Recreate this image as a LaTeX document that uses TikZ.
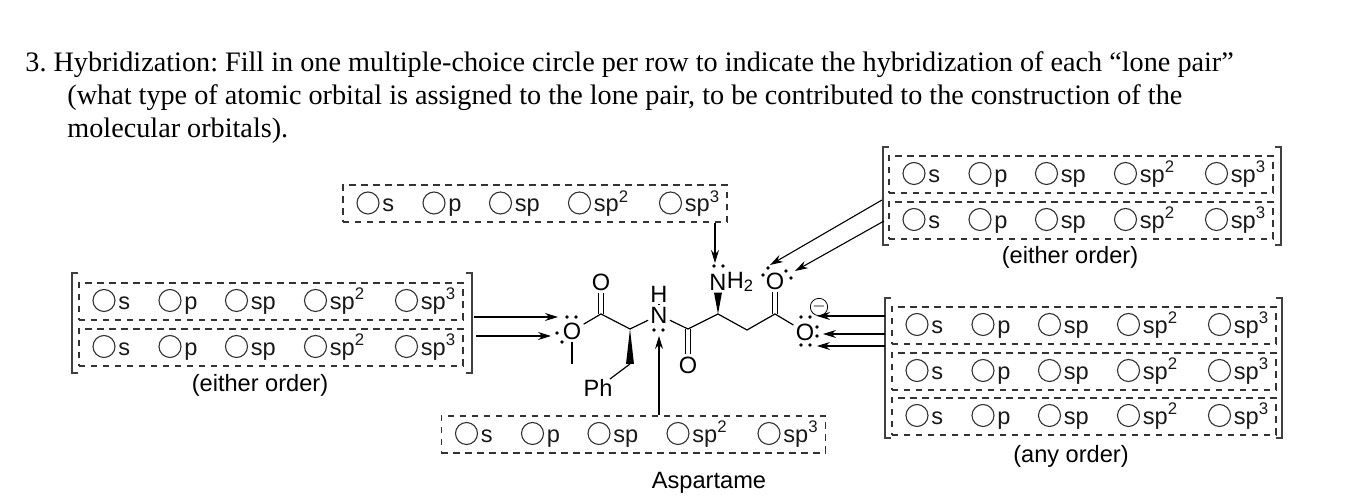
\documentclass[tikz,border=0pt]{standalone}
\usepackage{fontspec}
\setmainfont{Liberation Serif}
\newfontfamily\chemfont{Liberation Sans}
\usetikzlibrary{arrows.meta}

\newcommand{\orbpower}[1]{\raisebox{4.8pt}{\fontsize{8.4}{9}\selectfont #1}}

\tikzset{
	rowbox/.style={draw=black!80,dash pattern=on 3.3pt off 2.7pt,line width=.8pt,minimum width=192pt,minimum height=18.5pt,inner sep=0pt,anchor=north west},
	pick/.style={draw=black!80,circle,line width=.55pt,minimum size=11pt,inner sep=0pt},
	picktext/.style={anchor=base west,inner sep=0pt,text=black!90,font=\chemfont\fontsize{11.8}{12}\selectfont},
	caption/.style={font=\chemfont\fontsize{11.8}{12}\selectfont,inner sep=0pt},
	atom/.style={font=\chemfont\fontsize{11.8}{12}\selectfont,inner sep=1pt},
	question/.style={anchor=base west,inner sep=0pt,font=\frenchspacing\fontsize{14.1}{16}\selectfont},
	bond/.style={line width=.6pt},
	pointer/.style={line width=.55pt,-{Stealth[length=6.5pt,width=4pt]}},
	bracket/.style={line width=.7pt,draw=black!75},
}

\begin{document}
\begin{tikzpicture}[x=.5pt,y=-.5pt]
	\useasboundingbox (0,0) rectangle (1357,501);
	\node (line1) [question] at (25,72) {3. Hybridization: Fill in one multiple-choice circle per row to indicate the hybridization of each “lone pair”};
	\node (line2) [question] at (67,105) {(what type of atomic orbital is assigned to the lone pair, to be contributed to the construction of the};
	\node (line3) [question] at (67,138) {molecular orbitals).};

	\foreach \rowname/\rowx/\rowy in {top/342/184.5,ketoA/888/155,ketoB/888/201,esterA/78/282,esterB/78/328,acidA/891/306,acidB/891/352,acidC/891/397,amide/440.5/415}{
		\node (\rowname) [rowbox] at (\rowx,\rowy) {};
		\foreach \i/\off/\txt in {1/26/s,2/92/p,3/158.5/sp,4/237.5/sp\orbpower{2},5/328.5/sp\orbpower{3}}{
			\node (\rowname-c\i) [pick] at (\rowx+\off,\rowy+18.5) {};
			\node (\rowname-t\i) [picktext] at (\rowx+\off+14,\rowy+27.5) {\txt};
		}
	}

	\draw[bracket] (889,147) -- (883,147) -- (883,245) -- (889,245);
	\draw[bracket] (1275,147) -- (1281,147) -- (1281,245) -- (1275,245);
	\draw[bracket] (78,273) -- (72,273) -- (72,373) -- (78,373);
	\draw[bracket] (466,273) -- (472,273) -- (472,373) -- (466,373);
	\draw[bracket] (891,298) -- (885,298) -- (885,438) -- (891,438);
	\draw[bracket] (1276,298) -- (1282,298) -- (1282,438) -- (1276,438);

	\node (ketocap) [caption] at (1070,257) {(either order)};
	\node (estercap) [caption] at (260,385) {(either order)};
	\node (acidcap) [caption] at (1071,456) {(any order)};
	\node (name) [caption] at (709,482.5) {Aspartame};

	% skeleton, left to right
	\coordinate (C1) at (601,314);
	\coordinate (Ca) at (630,329);
	\coordinate (Cb) at (630,364);
	\coordinate (C2) at (688,329);
	\coordinate (Cc) at (718,314);
	\coordinate (Cd) at (747,330);
	\coordinate (C3) at (775,314);
	\coordinate (Me) at (572,364);
	\node (O1) [atom] at (601,282) {O};
	\node (O2) [atom] at (572,331) {O};
	\node (N1) [atom] at (659,315) {N};
	\node (H1) [atom] at (659,294) {H};
	\node (Ph) [atom,inner sep=0pt] at (598,388) {Ph};
	\node (O3) [atom] at (688,365) {O};
	\node (N2) [atom] at (718,282) {N};
	\node (H2) [atom,anchor=west,inner sep=0pt] at ([xshift=-1.2pt]N2.east) {H\textsubscript{2}};
	\node (O4) [atom] at (775,281) {O};
	\node (O5) [atom] at (805,332) {O};
	\node (neg) [draw,circle,line width=.4pt,minimum size=8pt,inner sep=0pt,font=\chemfont\fontsize{8}{8}\selectfont] at (819,307) {$-$};

	\draw[bond] (O2) -- (C1) -- (Ca) -- (N1) -- (C2) -- (Cc) -- (Cd) -- (C3) -- (O5);
	\draw[bond] (O2) -- (Me);
	\draw[bond] (Cb) -- (Ph);
	\draw[bond] (N1) -- (H1);
	\draw[bond] ([xshift=-1.3pt]O1.south) -- ([xshift=-1.3pt]C1);
	\draw[bond] ([xshift=1.3pt]O1.south) -- ([xshift=1.3pt]C1);
	\draw[bond] ([xshift=-1.3pt]C2) -- ([xshift=-1.3pt]O3.north);
	\draw[bond] ([xshift=1.3pt]C2) -- ([xshift=1.3pt]O3.north);
	\draw[bond] ([xshift=-1.3pt]O4.south) -- ([xshift=-1.3pt]C3);
	\draw[bond] ([xshift=1.3pt]O4.south) -- ([xshift=1.3pt]C3);
	\fill (Ca) -- ([xshift=-2pt]Cb) -- ([xshift=2pt]Cb) -- cycle;
	\fill (Cc) -- ([xshift=-2pt]N2.south) -- ([xshift=2pt]N2.south) -- cycle;

	\foreach \dotx/\doty in {567/317,576/317,557/333,562/342,654/330,663/330,714/266,723/266,763/275,768/268,786/271,791/278,801/317,810/317,817/327,817/336,801/345,810/345}
		\fill (\dotx,\doty) circle [radius=.9pt];

	\coordinate (tipA) at (558,317);
	\coordinate (tipB) at (551,336);
	\coordinate (tipC) at (715,263);
	\coordinate (tipD) at (659,336);
	\coordinate (tipE) at (770,265);
	\coordinate (tipF) at (795,271);
	\coordinate (tipG) at (817,316);
	\coordinate (tipH) at (823,334);
	\coordinate (tipI) at (817,346);
	\coordinate (tailA) at (474,317);
	\coordinate (tailB) at (476,336);
	\coordinate (tailE) at (882,200);
	\coordinate (tailF) at (884,221);
	\coordinate (tailG) at (885,316);
	\coordinate (tailH) at (885,334);
	\coordinate (tailI) at (885,346);

	\draw[pointer] (tailA) -- (tipA);
	\draw[pointer] (tailB) -- (tipB);
	\draw[pointer] (top.south -| tipC) -- (tipC);
	\draw[pointer] (amide.north -| tipD) -- (tipD);
	\draw[pointer] (tailE) -- (tipE);
	\draw[pointer] (tailF) -- (tipF);
	\draw[pointer] (tailG) -- (tipG);
	\draw[pointer] (tailH) -- (tipH);
	\draw[pointer] (tailI) -- (tipI);
\end{tikzpicture}
\end{document}
